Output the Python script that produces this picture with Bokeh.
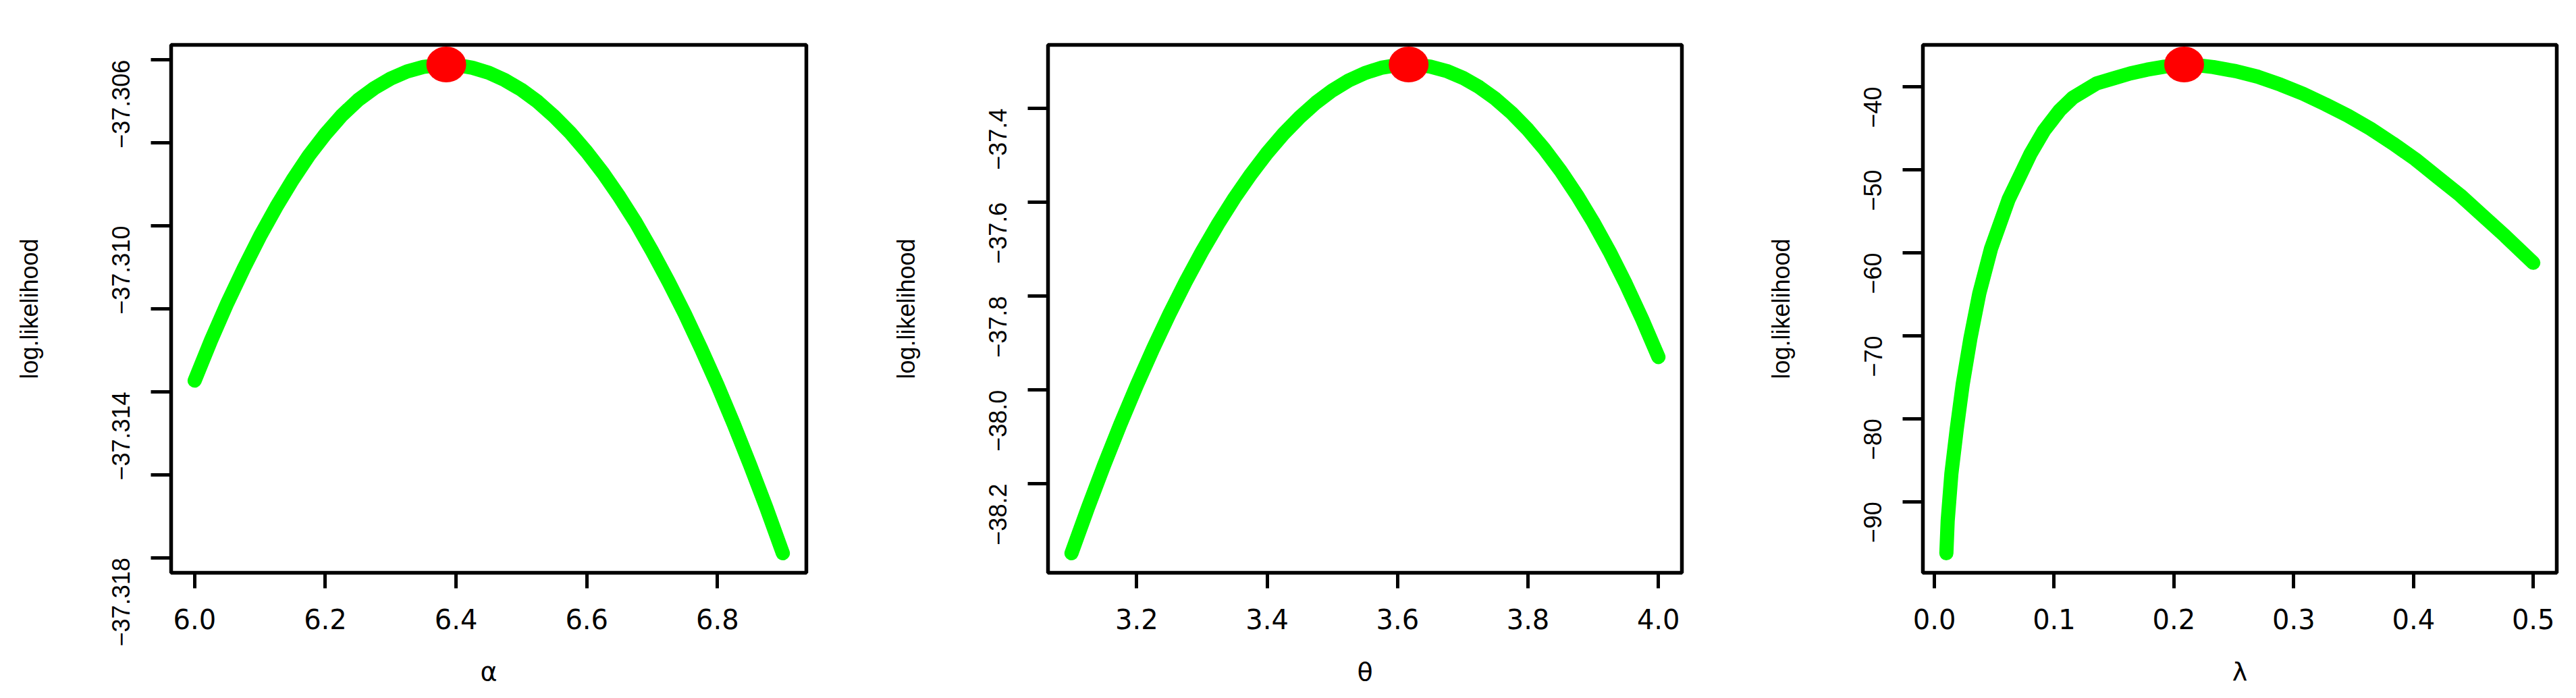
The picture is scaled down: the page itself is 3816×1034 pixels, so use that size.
import math
from bokeh.plotting import figure
from bokeh.models import Range1d, FixedTicker, CustomJSTickFormatter
from bokeh.layouts import row
from bokeh.embed import file_html
from bokeh.resources import INLINE

# ---------------- data ----------------
# panel 1: profile log-likelihood in alpha
alpha = [6.000, 6.025, 6.050, 6.075, 6.100, 6.125, 6.150, 6.175, 6.200, 6.225,
         6.250, 6.275, 6.300, 6.325, 6.350, 6.375, 6.400, 6.425, 6.450, 6.475,
         6.500, 6.525, 6.550, 6.575, 6.600, 6.625, 6.650, 6.675, 6.700, 6.725,
         6.750, 6.775, 6.800, 6.825, 6.850, 6.875, 6.900]
ll_alpha = [-37.31373, -37.31276, -37.31186, -37.31103, -37.31025, -37.30954,
            -37.30889, -37.30830, -37.30779, -37.30734, -37.30697, -37.30668,
            -37.30645, -37.30628, -37.30617, -37.30612, -37.30612, -37.30619,
            -37.30631, -37.30649, -37.30672, -37.30701, -37.30736, -37.30776,
            -37.30822, -37.30873, -37.30930, -37.30992, -37.31061, -37.31134,
            -37.31212, -37.31296, -37.31384, -37.31478, -37.31577, -37.31680,
            -37.31789]
alpha_hat = [6.385]
ll_alpha_hat = [-37.30611]
alpha_xticks = [6.0, 6.2, 6.4, 6.6, 6.8]
alpha_xlabels = ["6.0", "6.2", "6.4", "6.6", "6.8"]
alpha_yticks = [-37.318, -37.316, -37.314, -37.312, -37.310, -37.308, -37.306]
alpha_ylabels = ["\u221237.318", "", "\u221237.314", "", "\u221237.310", "", "\u221237.306"]

# panel 2: profile log-likelihood in theta
theta = [3.100, 3.125, 3.150, 3.175, 3.200, 3.225, 3.250, 3.275, 3.300, 3.325,
         3.350, 3.375, 3.400, 3.425, 3.450, 3.475, 3.500, 3.525, 3.550, 3.575,
         3.600, 3.625, 3.650, 3.675, 3.700, 3.725, 3.750, 3.775, 3.800, 3.825,
         3.850, 3.875, 3.900, 3.925, 3.950, 3.975, 4.000]
ll_theta = [-38.3482, -38.2521, -38.1604, -38.0732, -37.9905, -37.9123,
            -37.8387, -37.7697, -37.7053, -37.6456, -37.5906, -37.5404,
            -37.4949, -37.4543, -37.4185, -37.3875, -37.3615, -37.3404,
            -37.3244, -37.3133, -37.3073, -37.3064, -37.3106, -37.3199,
            -37.3345, -37.3543, -37.3793, -37.4097, -37.4453, -37.4864,
            -37.5328, -37.5847, -37.6421, -37.7049, -37.7740, -37.8490,
            -37.9300]
theta_hat = [3.617]
ll_theta_hat = [-37.3061]
theta_xticks = [3.2, 3.4, 3.6, 3.8, 4.0]
theta_xlabels = ["3.2", "3.4", "3.6", "3.8", "4.0"]
theta_yticks = [-38.2, -38.0, -37.8, -37.6, -37.4]
theta_ylabels = ["\u221238.2", "\u221238.0", "\u221237.8", "\u221237.6", "\u221237.4"]

# panel 3: profile log-likelihood in lambda
lam = [0.0100, 0.0111, 0.0142, 0.0187, 0.0237, 0.0301, 0.0375, 0.0473, 0.0619,
       0.0802, 0.0915, 0.1046, 0.1158, 0.1355, 0.1495, 0.1636, 0.1776, 0.1917,
       0.2085, 0.2198, 0.2329, 0.2516, 0.2703, 0.2890, 0.3078, 0.3265, 0.3452,
       0.3640, 0.3827, 0.4014, 0.4201, 0.4389, 0.4576, 0.4763, 0.5000]
ll_lam = [-96.2, -92.3, -86.6, -81.2, -75.8, -70.3, -64.9, -59.5, -53.6,
          -48.1, -45.3, -42.85, -41.3, -39.6, -39.0, -38.4, -37.95, -37.6,
          -37.32, -37.42, -37.64, -38.13, -38.81, -39.76, -40.85, -42.13, -43.49,
          -45.06, -46.83, -48.73, -50.90, -53.07, -55.52, -57.96, -61.22]
lam_hat = [0.2085]
ll_lam_hat = [-37.32]
lam_xticks = [0.0, 0.1, 0.2, 0.3, 0.4, 0.5]
lam_xlabels = ["0.0", "0.1", "0.2", "0.3", "0.4", "0.5"]
lam_yticks = [-90, -80, -70, -60, -50, -40]
lam_ylabels = ["\u221290", "\u221280", "\u221270", "\u221260", "\u221250", "\u221240"]

x_titles = ["\u03b1", "\u03b8", "\u03bb"]
y_title = "log.likelihood"

# ---------------- styling / layout ----------------
FIG_H = 1034
TOP = 66
FRAME_H = 782
BOTTOM = FIG_H - TOP - FRAME_H

LABEL_CODE = """
let best = 0; let bd = Infinity;
for (let i = 0; i < tv.length; i++) {
  const d = Math.abs(tv[i] - tick);
  if (d < bd) { bd = d; best = i; }
}
return lv[best];
"""


def pad_range(vals):
    lo, hi = min(vals), max(vals)
    d = (hi - lo) * 0.04
    return Range1d(lo - d, hi + d)


def panel(x, y, xh, yh, xticks, xlabels, yticks, ylabels, xtitle,
          width, left, frame_w):
    right = width - left - frame_w
    p = figure(width=width, height=FIG_H, output_backend="svg",
               toolbar_location=None, tools="",
               x_range=pad_range(x), y_range=pad_range(list(y) + list(yh)),
               min_border_left=left, min_border_right=right,
               min_border_top=TOP, min_border_bottom=BOTTOM)
    p.background_fill_color = "white"
    p.border_fill_color = "white"
    p.outline_line_color = "black"
    p.outline_line_width = 5.5
    p.grid.visible = False

    p.line(x, y, line_color="#00ff00", line_width=21,
           line_cap="round", line_join="round")
    p.ellipse(x=xh, y=yh, width=59, height=53, width_units="screen",
              height_units="screen", fill_color="#ff0000", line_color=None)

    xa = p.xaxis[0]
    xa.ticker = FixedTicker(ticks=xticks, minor_ticks=[])
    xa.formatter = CustomJSTickFormatter(args=dict(tv=xticks, lv=xlabels),
                                         code=LABEL_CODE)
    xa.axis_line_color = None
    xa.major_tick_line_color = "black"
    xa.major_tick_line_width = 5
    xa.major_tick_out = 23
    xa.major_tick_in = 0
    xa.minor_tick_line_color = None
    xa.major_label_text_font = "DejaVu Sans"
    xa.major_label_text_font_size = "40px"
    xa.major_label_text_color = "black"
    xa.major_label_standoff = 30
    xa.axis_label = xtitle
    xa.axis_label_text_font = "DejaVu Sans"
    xa.axis_label_text_font_size = "38px"
    xa.axis_label_text_font_style = "normal"
    xa.axis_label_text_color = "black"
    xa.axis_label_standoff = 38

    ya = p.yaxis[0]
    ya.ticker = FixedTicker(ticks=yticks, minor_ticks=[])
    ya.formatter = CustomJSTickFormatter(args=dict(tv=yticks, lv=ylabels),
                                         code=LABEL_CODE)
    ya.axis_line_color = None
    ya.major_tick_line_color = "black"
    ya.major_tick_line_width = 5
    ya.major_tick_out = 30
    ya.major_tick_in = 0
    ya.minor_tick_line_color = None
    ya.major_label_orientation = math.pi / 2
    ya.major_label_text_font = "Liberation Sans"
    ya.major_label_text_font_size = "36px"
    ya.major_label_text_color = "black"
    ya.major_label_standoff = 44
    ya.axis_label = y_title
    ya.axis_label_text_font = "Liberation Sans"
    ya.axis_label_text_font_size = "36px"
    ya.axis_label_text_font_style = "normal"
    ya.axis_label_text_color = "black"
    ya.axis_label_standoff = 87
    return p


p1 = panel(alpha, ll_alpha, alpha_hat, ll_alpha_hat, alpha_xticks, alpha_xlabels,
           alpha_yticks, alpha_ylabels, x_titles[0], 1300, 253, 941)
p2 = panel(theta, ll_theta, theta_hat, ll_theta_hat, theta_xticks, theta_xlabels,
           theta_yticks, theta_ylabels, x_titles[1], 1296, 252, 939)
p3 = panel(lam, ll_lam, lam_hat, ll_lam_hat, lam_xticks, lam_xlabels,
           lam_yticks, lam_ylabels, x_titles[2], 1220, 252, 939)

layout = row(p1, p2, p3)
open("out.html", "w").write(file_html(layout, INLINE))
